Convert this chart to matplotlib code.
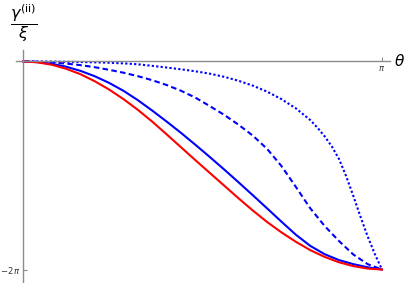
import numpy as np
import matplotlib
matplotlib.use("Agg")
import matplotlib.pyplot as plt

plt.rcParams['lines.scale_dashes'] = False

# theta / pi sample positions and gamma / pi values
t_grid = [0, .04, .08, .12, .16, .20, .24, .28, .32, .36, .40, .44, .48, .52, .56,
          .60, .64, .68, .72, .76, .80, .84, .88, .92, .96, 1.0]

red_v = [0, -.008, -.031, -.070, -.122, -.190, -.270, -.362, -.465, -.578, -.700, -.824,
         -.948, -1.070, -1.192, -1.314, -1.432, -1.543, -1.643, -1.733, -1.813, -1.878,
         -1.930, -1.967, -1.991, -2.0]

solid_v = [0, -.006, -.022, -.050, -.090, -.142, -.206, -.282, -.372, -.472, -.577, -.686,
           -.800, -.917, -1.037, -1.160, -1.285, -1.412, -1.540, -1.665, -1.772, -1.852,
           -1.909, -1.948, -1.978, -2.0]

dash_v = [0, -.002, -.009, -.020, -.035, -.055, -.080, -.108, -.141, -.180, -.226, -.281,
          -.347, -.428, -.512, -.607, -.712, -.840, -1.005, -1.205, -1.410, -1.580,
          -1.725, -1.855, -1.948, -2.0]

dot_t = [0, .04, .08, .12, .16, .20, .24, .28, .32, .36, .40, .44, .48, .52, .56, .60,
         .64, .68, .72, .76, .80, .82, .84, .86, .88, .90, .92, .94, .96, .98, 1.0]
dot_v = [0, 0, -.001, -.003, -.005, -.008, -.012, -.018, -.027, -.042, -.058, -.075, -.094,
         -.117, -.147, -.185, -.232, -.290, -.362, -.450, -.562, -.635, -.718, -.815,
         -.935, -1.100, -1.290, -1.490, -1.680, -1.850, -2.0]

x_ticks = [np.pi]
x_tick_labels = [r'$\pi$']
y_ticks = [-2 * np.pi]
y_tick_labels = [r'$-2\,\pi$']

fig = plt.figure(figsize=(4.09, 2.83), dpi=100)
ax = fig.add_axes([16 / 409, 0.0, (390 - 16) / 409, (283 - 50) / 283])

ax.set_xlim(-0.0613, 3.212)
ax.set_ylim(-6.69, 0.347)

def P(a):
    return np.array(a) * np.pi

ax.plot(P(dot_t), P(dot_v), color=(0, 0, 1), lw=1.5, dashes=(1.6, 1.6))
ax.plot(P(t_grid), P(dash_v), color=(0, 0, 1), lw=1.5, dashes=(4.0, 2.4))
ax.plot(P(t_grid), P(solid_v), color=(0, 0, 1), lw=1.5)
ax.plot(P(t_grid), P(red_v), color=(1, 0, 0), lw=1.5)

for s in ['top', 'right']:
    ax.spines[s].set_visible(False)
ax.spines['left'].set_position(('data', 0))
ax.spines['bottom'].set_position(('data', 0))
for s in ['left', 'bottom']:
    ax.spines[s].set_color('#8c8c8c')
    ax.spines[s].set_linewidth(1.0)

ax.set_xticks(x_ticks)
ax.set_xticklabels(x_tick_labels)
ax.set_yticks(y_ticks)
ax.set_yticklabels(y_tick_labels)
ax.tick_params(direction='in', length=3, width=0.8, color='#8c8c8c',
               labelsize=6, labelcolor='#333333', pad=1.5)
ax.patch.set_alpha(0)

fig.text(405 / 409, 1 - 61 / 283, r'$\theta$', fontsize=11, ha='right', va='center')
fig.text(24 / 409, 1 - 23 / 283, r'$\dfrac{\gamma^{(\mathrm{ii})}}{\xi}$', fontsize=11.5,
         ha='center', va='center')

fig.savefig('out.png', dpi=100)
